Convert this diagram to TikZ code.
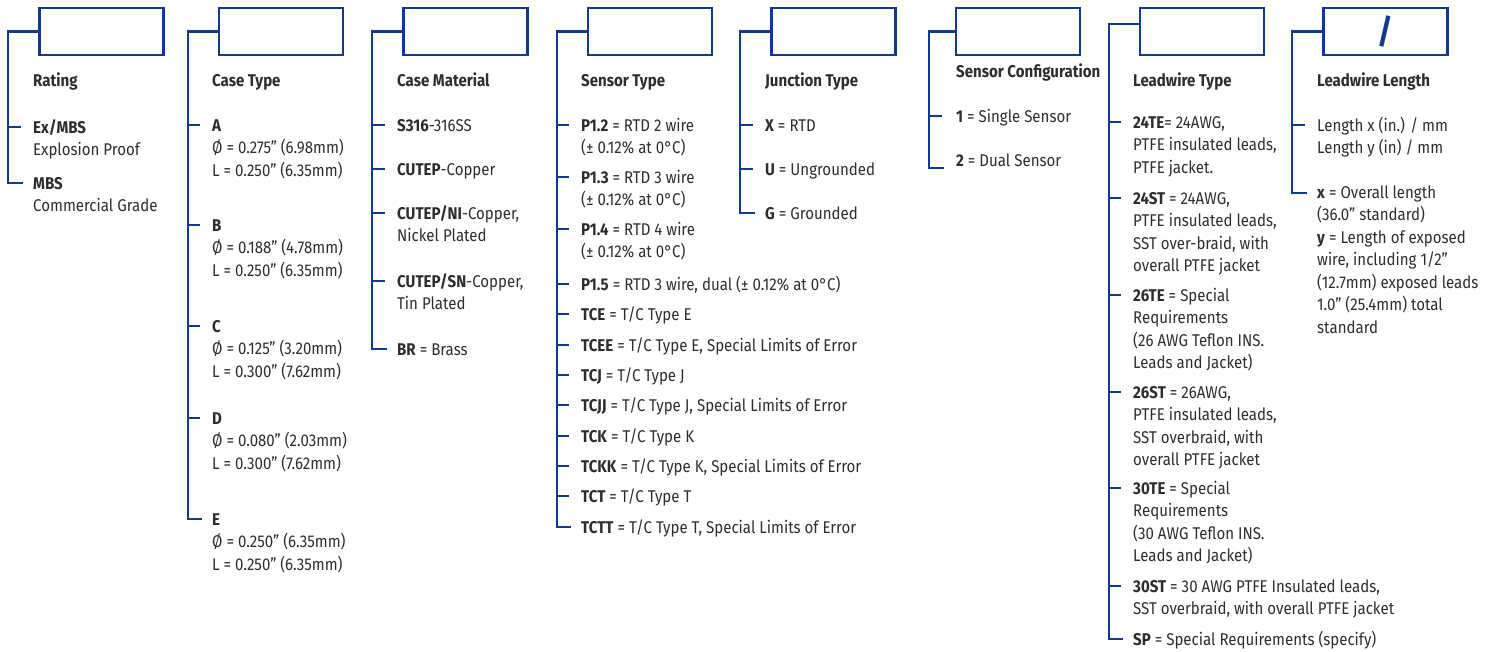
\documentclass[tikz,border=0pt]{standalone}
\usepackage{fontspec}
\setmainfont{Fira Sans}[FakeStretch=0.885]
\definecolor{navy}{RGB}{14,58,143}
\definecolor{ink}{RGB}{45,45,45}
\newcommand\mystrut{\rule{0pt}{15pt}}
\newcommand\mytick[2][24]{\draw[tick] ([shift={(-#1,9)}]#2.north west) -- ++(12,0);}
\begin{document}
\begin{tikzpicture}[x=1pt,y=-1pt,
  box/.style={draw=navy,line width=2.4pt,minimum width=124pt,minimum height=47pt,inner sep=0pt},
  main/.style={draw=navy,line width=2.2pt},
  tick/.style={draw=navy,line width=1.1pt},
  ttl/.style={anchor=north west,inner sep=0pt,text=ink,font={\fontsize{17}{22.5}\selectfont\bfseries}},
  item/.style={anchor=north west,inner sep=0pt,align=left,text=ink,font={\fontsize{17}{22.5}\selectfont}}]
\useasboundingbox (0,0) rectangle (1494,651);
% ---------- column 1: Rating
\node[box] (b1) at (101.5,31.5) {};
\node[ttl] (t1) at (33,71) {\mystrut Rating};
\node[item] (r1) at (33,118) {\mystrut\textbf{Ex/MBS}\\Explosion Proof};
\node[item] (r2) at (33,174) {\mystrut\textbf{MBS}\\Commercial Grade};
\mytick{r1}
\draw[main] (b1.west) -- ++(-30,0) |- ([shift={(-10,9)}]r2.north west);
% ---------- column 2: Case Type
\node[box] (b2) at (281,31.5) {};
\node[ttl] (t2) at (212,71) {\mystrut Case Type};
\node[item] (a1) at (212,116) {\mystrut\textbf{A}\\Ø = 0.275" (6.98mm)\\L = 0.250" (6.35mm)};
\node[item] (a2) at (212,216) {\mystrut\textbf{B}\\Ø = 0.188" (4.78mm)\\L = 0.250" (6.35mm)};
\node[item] (a3) at (212,317) {\mystrut\textbf{C}\\Ø = 0.125" (3.20mm)\\L = 0.300" (7.62mm)};
\node[item] (a4) at (212,409) {\mystrut\textbf{D}\\Ø = 0.080" (2.03mm)\\L = 0.300" (7.62mm)};
\node[item] (a5) at (212,510) {\mystrut\textbf{E}\\Ø = 0.250" (6.35mm)\\L = 0.250" (6.35mm)};
\mytick{a1}\mytick{a2}\mytick{a3}\mytick{a4}
\draw[main] (b2.west) -- ++(-30,0) |- ([shift={(-10,9)}]a5.north west);
% ---------- column 3: Case Material
\node[box] (b3) at (465.5,31.5) {};
\node[ttl] (t3) at (397,71) {\mystrut Case Material};
\node[item] (m1) at (397,116) {\mystrut\textbf{S316}-316SS};
\node[item] (m2) at (397,160) {\mystrut\textbf{CUTEP}-Copper};
\node[item] (m3) at (397,204) {\mystrut\textbf{CUTEP/NI}-Copper,\\Nickel Plated};
\node[item] (m4) at (397,272) {\mystrut\textbf{CUTEP/SN}-Copper,\\Tin Plated};
\node[item] (m5) at (397,340) {\mystrut\textbf{BR} = Brass};
\mytick{m1}\mytick{m2}\mytick{m3}\mytick{m4}
\draw[main] (b3.west) -- ++(-30,0) |- ([shift={(-10,9)}]m5.north west);
% ---------- column 4: Sensor Type
\node[box] (b4) at (650,31.5) {};
\node[ttl] (t4) at (581,71) {\mystrut Sensor Type};
\node[item] (s1) at (581,116) {\mystrut\textbf{P1.2} = RTD 2 wire\\(± 0.12\% at 0°C)};
\node[item] (s2) at (581,168) {\mystrut\textbf{P1.3} = RTD 3 wire\\(± 0.12\% at 0°C)};
\node[item] (s3) at (581,220) {\mystrut\textbf{P1.4} = RTD 4 wire\\(± 0.12\% at 0°C)};
\node[item] (s4) at (581,275) {\mystrut\textbf{P1.5} = RTD 3 wire, dual (± 0.12\% at 0°C)};
\node[item] (s5) at (581,305) {\mystrut\textbf{TCE} = T/C Type E};
\node[item] (s6) at (581,336) {\mystrut\textbf{TCEE} = T/C Type E, Special Limits of Error};
\node[item] (s7) at (581,366) {\mystrut\textbf{TCJ} = T/C Type J};
\node[item] (s8) at (581,396) {\mystrut\textbf{TCJJ} = T/C Type J, Special Limits of Error};
\node[item] (s9) at (581,427) {\mystrut\textbf{TCK} = T/C Type K};
\node[item] (s10) at (581,457) {\mystrut\textbf{TCKK} = T/C Type K, Special Limits of Error};
\node[item] (s11) at (581,487) {\mystrut\textbf{TCT} = T/C Type T};
\node[item] (s12) at (581,518) {\mystrut\textbf{TCTT} = T/C Type T, Special Limits of Error};
\mytick{s1}\mytick{s2}\mytick{s3}\mytick{s4}\mytick{s5}\mytick{s6}
\mytick{s7}\mytick{s8}\mytick{s9}\mytick{s10}\mytick{s11}
\draw[main] (b4.west) -- ++(-30,0) |- ([shift={(-10,9)}]s12.north west);
% ---------- column 5: Junction Type
\node[box] (b5) at (833.5,31.5) {};
\node[ttl] (t5) at (765,71) {\mystrut Junction Type};
\node[item] (j1) at (765,116) {\mystrut\textbf{X} = RTD};
\node[item] (j2) at (765,160) {\mystrut\textbf{U} = Ungrounded};
\node[item] (j3) at (765,204) {\mystrut\textbf{G} = Grounded};
\mytick{j1}\mytick{j2}
\draw[main] (b5.west) -- ++(-30,0) |- ([shift={(-10,9)}]j3.north west);
% ---------- column 6: Sensor Configuration
\node[box] (b6) at (1018,31.5) {};
\node[ttl] (t6) at (956,62) {\mystrut Sensor Configuration};
\node[item] (c1) at (956,107) {\mystrut\textbf{1} = Single Sensor};
\node[item] (c2) at (956,151) {\mystrut\textbf{2} = Dual Sensor};
\mytick[26]{c1}
\draw[main] (b6.west) -- ++(-26,0) |- ([shift={(-12,17)}]c2.north west);
% ---------- column 7: Leadwire Type
\node[box] (b7) at (1202,31.5) {};
\node[ttl] (t7) at (1133,71) {\mystrut Leadwire Type};
\node[item] (w1) at (1133,113) {\mystrut\textbf{24TE}= 24AWG,\\PTFE insulated leads,\\PTFE jacket.};
\node[item] (w2) at (1133,189) {\mystrut\textbf{24ST} = 24AWG,\\PTFE insulated leads,\\SST over-braid, with\\overall PTFE jacket};
\node[item] (w3) at (1133,286) {\mystrut\textbf{26TE} = Special\\Requirements\\(26 AWG Teflon INS.\\Leads and Jacket)};
\node[item] (w4) at (1133,383) {\mystrut\textbf{26ST} = 26AWG,\\PTFE insulated leads,\\SST overbraid, with\\overall PTFE jacket};
\node[item] (w5) at (1133,479) {\mystrut\textbf{30TE} = Special\\Requirements\\(30 AWG Teflon INS.\\Leads and Jacket)};
\node[item] (w6) at (1133,577) {\mystrut\textbf{30ST} = 30 AWG PTFE Insulated leads,\\SST overbraid, with overall PTFE jacket};
\node[item] (w7) at (1133,630) {\mystrut\textbf{SP} = Special Requirements (specify)};
\mytick{w1}\mytick{w2}\mytick{w3}\mytick{w4}\mytick{w5}\mytick{w6}
\draw[main] ([shift={(0,-7.5)}]b7.west) -- ++(-30,0) |- ([shift={(-10,9)}]w7.north west);
% ---------- column 8: Leadwire Length
\node[box,text=navy,font={\fontsize{34}{34}\selectfont\bfseries}] (b8) at (1385.5,31.5) {/};
\node[ttl] (t8) at (1317,71) {\mystrut Leadwire Length};
\node[item] (l1) at (1317,116) {\mystrut Length x (in.) / mm\\Length y (in) / mm};
\node[item] (l2) at (1317,183) {\mystrut\textbf{x} = Overall length\\(36.0" standard)\\\textbf{y} = Length of exposed\\wire, including 1/2"\\(12.7mm) exposed leads\\1.0" (25.4mm) total\\standard};
\mytick{l1}
\draw[main] (b8.west) -- ++(-30,0) |- ([shift={(-10,10)}]l2.north west);
\end{tikzpicture}
\end{document}
